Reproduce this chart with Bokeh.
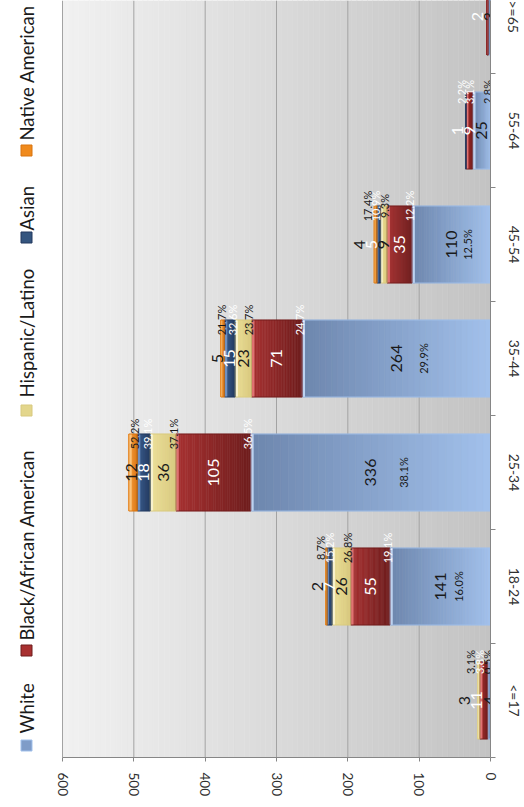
import numpy as np
from math import pi
from bokeh.plotting import figure
from bokeh.models import Range1d, FixedTicker
from bokeh.core.properties import value
from bokeh.embed import file_html
from bokeh.resources import INLINE

# ---------------- data ----------------
categories = ["<=17", "18-24", "25-34", "35-44", "45-54", "55-64", ">=65"]
white = [4, 141, 336, 264, 110, 25, 3]
black = [11, 55, 105, 71, 35, 9, 2]
hispanic = [3, 26, 36, 23, 9, 0, 0]
asian = [0, 7, 18, 15, 5, 1, 0]
native = [0, 2, 12, 5, 4, 0, 0]
series_names = ["White", "Black/African American", "Hispanic/Latino", "Asian", "Native American"]
value_ticks = [0, 100, 200, 300, 400, 500, 600]

series_values = [white, black, hispanic, asian, native]

# ---------------- styles ----------------
FONT = "Lato"
# (colour at top end, colour at base, bevel colour, value label colour, pct label colour, legend colour)
styles = [
    ("#6d86ad", "#a2c1ec", "#bcd2f0", "#1a1a1a", "#1a1a1a", "#7f9cc8"),
    ("#a83232", "#6e1d1d", "#e07272", "#ffffff", "#ffffff", "#a83030"),
    ("#ecdf98", "#d8c97e", "#f8f1cc", "#1a1a1a", "#1a1a1a", "#e3d68c"),
    ("#3d5f8e", "#22395e", "#7090bf", "#ffffff", "#ffffff", "#34557f"),
    ("#f6a244", "#d9740e", "#fbc47c", "#1a1a1a", "#1a1a1a", "#f08a1c"),
]

K = 428 / 600.0          # px per value unit
FX0, FX1 = 8, 490        # picture x of frame
FY0, FY1 = 0, 757        # picture y of frame
BAND = 114.0             # px per category
HALF = 0.3375            # half bar thickness (category units)
x_start = (FX1 - FX0) / K
y_end = -0.5 + (FY1 - FY0) / BAND


def vx(px):
    return (FX1 - px) / K


def vy(py):
    return (FY1 - py) / BAND - 0.5


def hexmix(c0, c1, t):
    a = np.array([int(c0[i:i + 2], 16) for i in (1, 3, 5)], dtype=float)
    b = np.array([int(c1[i:i + 2], 16) for i in (1, 3, 5)], dtype=float)
    m = a + (b - a) * t
    return "#%02x%02x%02x" % tuple(int(round(v)) for v in m)


p = figure(frame_width=FX1 - FX0, frame_height=FY1 - FY0,
           x_range=Range1d(x_start, 0), y_range=Range1d(-0.5, y_end),
           output_backend="svg", toolbar_location=None, y_axis_location="right",
           min_border_left=FX0, min_border_top=FY0, min_border_right=32, min_border_bottom=48,
           background_fill_color="white", border_fill_color="white",
           outline_line_color=None, title=None)
p.xgrid.visible = False
p.ygrid.visible = False

# plot-area gradient background
nb = 80
edges = np.linspace(value_ticks[0], value_ticks[-1], nb + 1)
bg_cols = [hexmix("#c3c3c3", "#f1f1f1", (edges[i] + edges[i + 1]) / 2 / value_ticks[-1]) for i in range(nb)]
p.quad(left=edges[:-1], right=edges[1:], bottom=-0.5, top=y_end, fill_color=bg_cols,
       line_color=bg_cols, line_width=0.6)
p.segment(x0=value_ticks[1:], y0=-0.5, x1=value_ticks[1:], y1=y_end, line_color="#a3a3a3", line_width=1)

# stacked bars with gradient + bevel
L, R, B, T, C = [], [], [], [], []
bev = dict(left=[], right=[], bottom=[], top=[], color=[])
outl = dict(left=[], right=[], bottom=[], top=[], color=[])
lab = dict(x=[], y=[], text=[], color=[])
pct = dict(x=[], y=[], text=[], color=[])
totals = [sum(v) for v in series_values]
base = [0.0] * len(categories)
prev_val = [-1e9] * len(categories)
prev_pct = [-1e9] * len(categories)
ns = 32
for j, vals in enumerate(series_values):
    ctop, cbase, cbev, lcol, pcol, _ = styles[j]
    for i, v in enumerate(vals):
        if v <= 0:
            continue
        b0 = base[i]
        t0 = b0 + v
        e = np.linspace(b0, t0, ns + 1)
        for k in range(ns):
            L.append(e[k]); R.append(e[k + 1])
            B.append(i - HALF); T.append(i + HALF)
            C.append(hexmix(cbase, ctop, (k + 0.5) / ns))
        bw = min(4.0, v / 3.0)
        bev["left"].append(t0 - bw); bev["right"].append(t0)
        bev["bottom"].append(i - HALF); bev["top"].append(i + HALF); bev["color"].append(cbev)
        outl["left"].append(b0); outl["right"].append(t0)
        outl["bottom"].append(i - HALF); outl["top"].append(i + HALF); outl["color"].append(cbase)
        # value label
        c = b0 + v / 2.0
        pos = max(c, prev_val[i] + 17)
        prev_val[i] = pos
        lab["x"].append(pos); lab["y"].append(i); lab["text"].append(str(v)); lab["color"].append(lcol)
        # percent label
        ptxt = "%.1f%%" % (100.0 * v / totals[j])
        if j == 0 and v >= 50:
            pct["x"].append(c - (0.1 * v + 12)); pct["y"].append(i)
        else:
            pp = max(b0 + 4, prev_pct[i] + 12)
            prev_pct[i] = pp
            pct["x"].append(pp); pct["y"].append(i + HALF)
        pct["text"].append(ptxt); pct["color"].append(pcol)
        base[i] = t0

p.quad(left=L, right=R, bottom=B, top=T, fill_color=C, line_color=C, line_width=0.6)
p.quad(left=bev["left"], right=bev["right"], bottom=bev["bottom"], top=bev["top"],
       fill_color=bev["color"], line_color=None)
p.quad(left=outl["left"], right=outl["right"], bottom=outl["bottom"], top=outl["top"],
       fill_color=None, line_color=outl["color"], line_width=0.8)

p.text(x=lab["x"], y=lab["y"], text=lab["text"], text_color=lab["color"], angle=pi / 2,
       text_align="center", text_baseline="middle", text_font=value(FONT), text_font_size="16px")
p.text(x=pct["x"], y=pct["y"], text=pct["text"], text_color=pct["color"], angle=pi / 2,
       text_align="center", text_baseline="middle", text_font=value(FONT), text_font_size="11px")

# legend (rotated, drawn manually)
leg_marker_py = [745, 650, 410, 237, 150]
leg_text_py = [733, 640, 397, 230, 140]
leg_px = 26
p.scatter(x=[vx(leg_px)] * 5, y=[vy(q) for q in leg_marker_py], marker="square", size=11,
          fill_color=[s[5] for s in styles], line_color=[s[1] for s in styles], line_width=1)
p.text(x=[vx(leg_px)] * 5, y=[vy(q) for q in leg_text_py], text=series_names, angle=pi / 2,
       text_align="left", text_baseline="middle", text_font=value(FONT), text_font_size="18.5px",
       text_color="#1a1a1a")

# axes
xa = p.xaxis[0]
xa.ticker = FixedTicker(ticks=value_ticks)
xa.bounds = (value_ticks[0], value_ticks[-1])
xa.major_label_orientation = "vertical"
xa.major_label_text_font = FONT
xa.major_label_text_font_size = "13.5px"
xa.major_label_text_color = "#303030"
xa.major_tick_out = 4
xa.major_tick_in = 0
xa.minor_tick_out = 0
xa.minor_tick_in = 0
xa.major_label_standoff = 11
xa.axis_line_color = "#868686"
xa.major_tick_line_color = "#868686"

ya = p.yaxis[0]
ya.ticker = FixedTicker(ticks=list(range(len(categories))),
                        minor_ticks=[k - 0.5 for k in range(len(categories) + 1)])
ya.major_label_overrides = {i: c for i, c in enumerate(categories)}
ya.major_label_orientation = "vertical"
ya.major_label_text_font = FONT
ya.major_label_text_font_size = "14px"
ya.major_label_text_color = "#303030"
ya.major_tick_out = 0
ya.major_tick_in = 0
ya.minor_tick_out = 5
ya.minor_tick_in = 0
ya.major_label_standoff = 10
ya.axis_line_color = "#868686"
ya.minor_tick_line_color = "#868686"

open("out.html", "w").write(file_html(p, INLINE))
